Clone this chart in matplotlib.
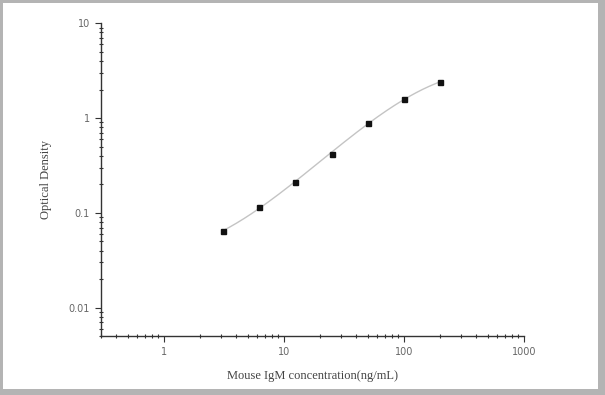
import matplotlib.pyplot as plt
import numpy as np
from matplotlib.patches import Rectangle

# standard curve data
conc = [3.125, 6.25, 12.5, 25, 50, 100, 200]
od = [0.064, 0.116, 0.213, 0.421, 0.886, 1.585, 2.39]

xticks = [1, 10, 100, 1000]
xticklabels = ["1", "10", "100", "1000"]
yticks = [0.01, 0.1, 1, 10]
yticklabels = ["0.01", "0.1", "1", "10"]

fig = plt.figure(figsize=(6.05, 3.95), dpi=100)
fig.patch.set_facecolor("#b4b4b4")
# white page inside the grey frame
fig.patches.append(Rectangle((3 / 605, 6 / 395), 595 / 605, 386 / 395, transform=fig.transFigure,
                             facecolor="white", edgecolor="none", zorder=-1))

ax = fig.add_axes([0.167, 0.149, 0.699, 0.792])
ax.set_zorder(1)
ax.set_facecolor("none")
ax.set_xscale("log")
ax.set_yscale("log")
ax.set_xlim(0.3, 1000)
ax.set_ylim(0.005, 10)

# fitted curve in log-log space
lx = np.log10(conc)
ly = np.log10(od)
coef = np.polyfit(lx, ly, 3)
xs = np.linspace(lx[0], lx[-1], 200)
ax.plot(10 ** xs, 10 ** np.polyval(coef, xs), color="#c4c4c4", lw=1.0, zorder=2)
ax.plot(conc, od, "s", color="#111111", ms=3.6, zorder=3)

ax.spines["top"].set_visible(False)
ax.spines["right"].set_visible(False)
for s in ["left", "bottom"]:
    ax.spines[s].set_color("#333333")
    ax.spines[s].set_linewidth(1.0)

ax.set_xticks(xticks)
ax.set_xticklabels(xticklabels)
ax.set_yticks(yticks)
ax.set_yticklabels(yticklabels)
ax.tick_params(which="major", direction="out", length=4, width=0.8, color="#333333",
               labelsize=7, labelcolor="#666666", pad=4)
ax.tick_params(which="minor", direction="inout", length=3, width=0.8, color="#333333")

ax.set_xlabel("Mouse IgM concentration(ng/mL)", family="Liberation Serif", fontsize=9,
              color="#444444", labelpad=9)
ax.set_ylabel("Optical Density", family="Liberation Serif", fontsize=9,
              color="#444444", labelpad=12)

fig.savefig("out.png", dpi=100, facecolor=fig.get_facecolor())
